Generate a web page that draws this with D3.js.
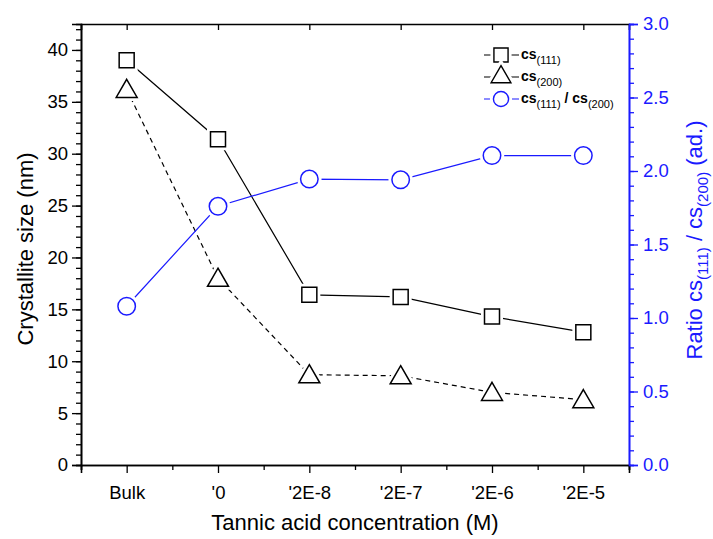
<!DOCTYPE html>
<html>
<head>
<meta charset="utf-8">
<script src="https://cdn.jsdelivr.net/npm/d3@7"></script>
<style>
  body { margin: 0; background: #fff; }
  svg { font-family: "Liberation Sans", Arial, sans-serif; }
</style>
</head>
<body>
<svg width="713" height="539"></svg>
<script>
// data
var categories = ["Bulk", "'0", "'2E-8", "'2E-7", "'2E-6", "'2E-5"];
var cs111 = [39.0, 31.4, 16.4, 16.2, 14.3, 12.8];
var cs200 = [36.2, 18.0, 8.7, 8.6, 7.0, 6.3];
var ratio = [1.08, 1.76, 1.945, 1.94, 2.105, 2.105];
var leftTicks = [0, 5, 10, 15, 20, 25, 30, 35, 40];
var rightTicks = [0.0, 0.5, 1.0, 1.5, 2.0, 2.5, 3.0];

var svg = d3.select("svg"),
    margin = {top: 24, right: 84, bottom: 74, left: 81},
    width = +svg.attr("width") - margin.left - margin.right,
    height = +svg.attr("height") - margin.top - margin.bottom;

var blue = "#1a1aff";

var x = d3.scalePoint().domain(categories).range([0, width]).padding(0.5),
    y = d3.scaleLinear().domain([0, 42.5]).range([height, 0]),
    y2 = d3.scaleLinear().domain([0, 3]).range([height, 0]);

var g = svg.append("g")
    .attr("transform", "translate(" + margin.left + "," + margin.top + ")");

function styleAxis(sel, color) {
    sel.select(".domain").attr("stroke", color).attr("stroke-width", 1.6);
    sel.selectAll(".tick line").attr("stroke", color).attr("stroke-width", 1.3);
    sel.selectAll(".tick text").attr("fill", color).style("font-size", "18.5px");
}

// minor ticks
var yMinor = d3.range(0, 43, 1);
g.append("g")
    .call(d3.axisLeft(y).tickValues(yMinor).tickSize(5).tickFormat(""))
    .call(styleAxis, "#000");
var y2Minor = d3.range(0, 31).map(function (d) { return d / 10; });
g.append("g")
    .attr("transform", "translate(" + width + ",0)")
    .call(d3.axisRight(y2).tickValues(y2Minor).tickSize(5).tickFormat(""))
    .call(styleAxis, blue);

var xBounds = categories.map(function (c) { return x(c) - x.step() / 2; });
xBounds.push(width);
var xMinorScale = d3.scaleLinear().domain([0, width]).range([0, width]);
g.append("g")
    .attr("transform", "translate(0," + height + ")")
    .call(d3.axisBottom(xMinorScale).tickValues(xBounds).tickSize(5).tickFormat(""))
    .call(styleAxis, "#000");

// major axes
g.append("g")
    .attr("transform", "translate(0," + height + ")")
    .call(d3.axisBottom(x).tickSize(8).tickPadding(13))
    .call(styleAxis, "#000");

// top frame with inward ticks
g.append("g")
    .call(d3.axisBottom(x).tickSize(6).tickFormat(""))
    .call(styleAxis, "#000");

g.append("g")
    .call(d3.axisLeft(y).tickValues(leftTicks).tickSize(9).tickPadding(4))
    .call(styleAxis, "#000");

g.append("g")
    .attr("transform", "translate(" + width + ",0)")
    .call(d3.axisRight(y2).tickValues(rightTicks).tickSize(9).tickPadding(5).tickFormat(d3.format(".1f")))
    .call(styleAxis, blue);

// lines
var lineLeft = d3.line().x(function (d, i) { return x(categories[i]); }).y(function (d) { return y(d); });
var lineRight = d3.line().x(function (d, i) { return x(categories[i]); }).y(function (d) { return y2(d); });

g.append("path").datum(cs111).attr("d", lineLeft)
    .attr("fill", "none").attr("stroke", "#000").attr("stroke-width", 1.2);
g.append("path").datum(cs200).attr("d", lineLeft)
    .attr("fill", "none").attr("stroke", "#000").attr("stroke-width", 1.2)
    .attr("stroke-dasharray", "5,4");
g.append("path").datum(ratio).attr("d", lineRight)
    .attr("fill", "none").attr("stroke", blue).attr("stroke-width", 1.2);

var sq = d3.symbol().type(d3.symbolSquare).size(225),
    tri = d3.symbol().type(d3.symbolTriangle).size(190),
    circ = d3.symbol().type(d3.symbolCircle).size(240);

// white halo first so the connecting lines stop short of the markers
function markers(data, sc, sym, color, dy) {
    var m = g.append("g");
    var pos = function (d, i) { return "translate(" + x(categories[i]) + "," + (sc(d) + dy) + ")"; };
    m.selectAll("path.halo").data(data).enter().append("path")
        .attr("class", "halo").attr("transform", pos)
        .attr("d", sym).attr("fill", "#fff").attr("stroke", "#fff").attr("stroke-width", 7);
    m.selectAll("path.mk").data(data).enter().append("path")
        .attr("class", "mk").attr("transform", pos)
        .attr("d", sym).attr("fill", "#fff").attr("stroke", color).attr("stroke-width", 1.5);
}
markers(cs111, y, sq, "#000", 0);
markers(cs200, y, tri, "#000", 2);
markers(ratio, y2, circ, blue, 0);

// axis titles
svg.append("text")
    .attr("transform", "translate(33,249) rotate(-90)")
    .attr("text-anchor", "middle")
    .style("font-size", "22px")
    .text("Crystallite size (nm)");

svg.append("text")
    .attr("x", margin.left + width / 2).attr("y", 530)
    .attr("text-anchor", "middle")
    .style("font-size", "22px")
    .text("Tannic acid concentration (M)");

var rt = svg.append("text")
    .attr("transform", "translate(702,240) rotate(-90)")
    .attr("text-anchor", "middle")
    .attr("fill", blue)
    .style("font-size", "22px");
rt.append("tspan").text("Ratio cs");
rt.append("tspan").attr("dy", 6).style("font-size", "15px").text("(111)");
rt.append("tspan").attr("dy", -6).text(" / cs");
rt.append("tspan").attr("dy", 6).style("font-size", "15px").text("(200)");
rt.append("tspan").attr("dy", -6).text(" (ad.)");

// legend
var legendItems = [
    {sym: d3.symbol().type(d3.symbolSquare).size(200), color: "#000", y: 55, parts: [["cs", 0], ["(111)", 1]]},
    {sym: d3.symbol().type(d3.symbolTriangle).size(170), color: "#000", y: 77, parts: [["cs", 0], ["(200)", 1]]},
    {sym: d3.symbol().type(d3.symbolCircle).size(180), color: blue, y: 99,
        parts: [["cs", 0], ["(111)", 1], [" / cs", 0], ["(200)", 1]]}
];
var leg = svg.append("g");
legendItems.forEach(function (it) {
    leg.append("line").attr("x1", 484).attr("x2", 519).attr("y1", it.y).attr("y2", it.y)
        .attr("stroke", it.color).attr("stroke-width", 1.2);
    var t = "translate(501," + it.y + ")";
    leg.append("path").attr("transform", t).attr("d", it.sym)
        .attr("fill", "#fff").attr("stroke", "#fff").attr("stroke-width", 7);
    leg.append("path").attr("transform", t).attr("d", it.sym)
        .attr("fill", "#fff").attr("stroke", it.color).attr("stroke-width", 1.4);
    var tx = leg.append("text").attr("x", 521).attr("y", it.y + 4);
    var prev = 0;
    it.parts.forEach(function (p) {
        var ts = tx.append("tspan").text(p[0]).attr("dy", (p[1] - prev) * 5);
        if (p[1]) ts.style("font-size", "11px");
        else ts.style("font-size", "14px").style("font-weight", "bold");
        prev = p[1];
    });
});
</script>
</body>
</html>
